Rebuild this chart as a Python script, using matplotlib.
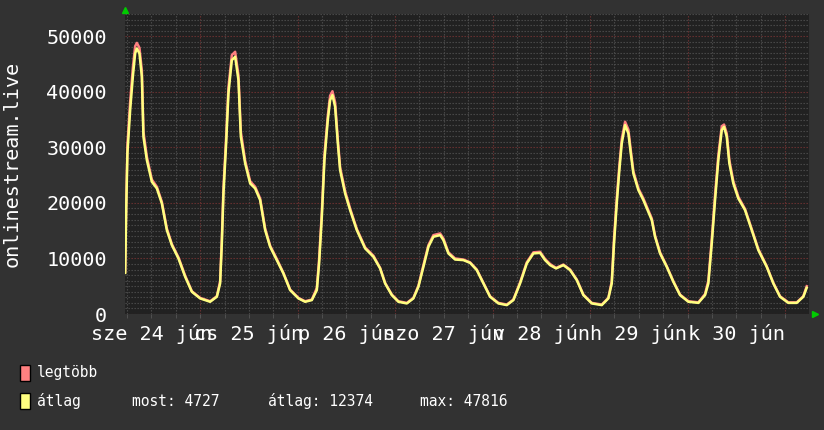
"""RRDtool-style weekly viewer graph for onlinestream.live (dark theme)."""
import matplotlib
matplotlib.use("Agg")
import matplotlib.pyplot as plt
from matplotlib.patches import Rectangle
from matplotlib.ticker import FuncFormatter, MultipleLocator

# hours since jún 24 00:00
hours = [
    5.54, 5.78, 6.1, 6.77, 7.43, 8.0, 8.42, 9.06, 9.65, 10.04, 10.88, 12.11,
    13.34, 14.57, 15.8, 17.03, 18.66, 20.31, 21.96, 24.0, 26.46, 28.11, 28.92,
    29.34, 29.74, 30.4, 30.97, 31.8, 32.62, 33.43, 34.02, 35.08, 36.31, 37.54,
    38.77, 40.0, 41.23, 42.88, 44.5, 46.15, 48.2, 49.85, 51.5, 52.73, 53.29,
    53.96, 54.6, 55.43, 56.0, 56.57, 57.23, 57.9, 58.46, 59.69, 60.92, 62.57,
    64.62, 66.66, 68.31, 69.54, 71.19, 72.81, 74.88, 76.5, 77.74, 78.97, 80.2,
    81.43, 83.08, 83.89, 85.12, 86.77, 88.81, 90.46, 92.11, 93.74, 95.38,
    97.43, 99.5, 101.12, 102.77, 104.42, 106.05, 107.69, 108.92, 110.15,
    111.63, 113.43, 115.08, 116.73, 118.35, 120.42, 122.88, 124.5, 125.34,
    125.9, 126.57, 127.21, 127.8, 128.62, 129.43, 130.02, 130.66, 131.89,
    133.12, 135.19, 136.0, 137.23, 138.88, 140.5, 142.15, 144.2, 146.66,
    148.31, 149.12, 149.96, 150.77, 151.58, 152.42, 152.98, 153.65, 154.29,
    155.27, 156.5, 158.15, 159.8, 161.42, 163.49, 165.12, 166.77, 168.81,
    170.88, 172.5, 173.34,
]

atlag = [
    7400, 18200, 29000, 36700, 42700, 46900, 47800, 46900, 42700, 31900, 27700, 23800,
    22600, 19900, 15100, 12400, 10000, 6700, 4000, 2800, 2200, 3100, 5500,
    12700, 21700, 30700, 39700, 45700, 46300, 42100, 31900, 27100, 23500, 22600,
    20500, 15100, 12100, 9700, 7300, 4300, 2800, 2200, 2500, 4300, 9100,
    17500, 27700, 34900, 38500, 39400, 37300, 30700, 25900, 21700, 18700, 15100,
    11800, 10300, 8200, 5500, 3400, 2200, 1900, 2800, 4900, 8500, 12100,
    13900, 14200, 13300, 10900, 9800, 9700, 9200, 7900, 5500, 3100,
    1900, 1600, 2500, 5500, 9100, 10900, 11000, 9700, 8800,
    8200, 8800, 7900, 6100, 3400, 1900, 1600, 2800, 5500,
    12700, 19900, 25900, 30700, 34000, 32500, 28900, 25300, 22300,
    20500, 16900, 13900, 10900, 8500, 5800, 3400, 2200, 2000,
    3400, 5500, 12700, 20500, 27700, 33100, 33700, 31900, 27100,
    23500, 20800, 18700, 15100, 11500, 8500, 5500, 3100, 2000,
    2000, 3100, 4727,
]

legtobb = [
    7600, 19500, 30500, 38200, 44300, 48200, 48800, 47900, 43800, 32800, 28300, 24200,
    22900, 20200, 15400, 12600, 10200, 6900, 4100, 2900, 2300, 3200, 5900,
    13600, 22700, 31800, 40800, 46600, 47200, 43000, 32800, 27600, 23900, 22900,
    20800, 15400, 12300, 9900, 7400, 4400, 2900, 2300, 2600, 4700, 9900,
    18400, 28600, 35700, 39300, 40100, 38100, 31400, 26400, 22100, 19000, 15300,
    12000, 10500, 8300, 5600, 3500, 2300, 2000, 2900, 5100, 8800, 12400,
    14200, 14500, 13600, 11100, 10000, 9800, 9300, 8000, 5600, 3200,
    2000, 1700, 2600, 5700, 9300, 11100, 11200, 9900, 9000,
    8300, 8900, 8000, 6200, 3500, 2000, 1700, 2900, 5900,
    13600, 20800, 26700, 31500, 34600, 33200, 29500, 25700, 22600,
    20800, 17200, 14100, 11100, 8600, 5900, 3500, 2300, 2100,
    3600, 6000, 13500, 21400, 28600, 33800, 34100, 32500, 27700,
    23900, 21100, 18900, 15300, 11700, 8600, 5600, 3200, 2100,
    2100, 3200, 5000,
]

day_labels = ["sze 24 jún", "cs 25 jún", "p 26 jún", "szo 27 jún",
              "v 28 jún", "h 29 jún", "k 30 jún"]
y_ticks = [0, 10000, 20000, 30000, 40000, 50000]
series_names = ["legtöbb", "átlag"]
most_value = 4727
atlag_value = 12374
max_value = 47816

BACK = "#323232"
CANVAS = "#212121"
FG = "#ffffff"
MAX_COLOR = "#ff8080"
AVG_COLOR = "#ffff80"
MINOR_GRID = "#4e4e4e"
MAJOR_GRID = "#703232"
MONO = "DejaVu Sans Mono"

W, H = 824, 430
fig = plt.figure(figsize=(W / 100, H / 100), dpi=100)
fig.patch.set_facecolor(BACK)
ax = fig.add_axes([125 / W, (H - 314) / H, (809 - 125) / W, (314 - 14) / H])
ax.set_facecolor(CANVAS)

ax.plot(hours, legtobb, color=MAX_COLOR, lw=1.8, zorder=3)
ax.plot(hours, atlag, color=AVG_COLOR, lw=1.8, zorder=4)

ax.set_xlim(5.5, 173.9)
ax.set_ylim(0, 54000)

# grid: days (red) / 6 hours (gray), 10000 (red) / 1000 (gray)
ax.xaxis.set_major_locator(MultipleLocator(24))
ax.xaxis.set_minor_locator(MultipleLocator(6))
ax.yaxis.set_major_locator(MultipleLocator(10000))
ax.yaxis.set_minor_locator(MultipleLocator(1000))
ax.set_yticks(y_ticks)
ax.grid(True, which="minor", color=MINOR_GRID, lw=0.8, linestyle=(0, (1.2, 1.5)), zorder=1)
ax.grid(True, which="major", color=MAJOR_GRID, lw=0.8, linestyle=(0, (1.2, 1.5)), zorder=2)
ax.set_axisbelow(True)


def day_fmt(x, pos):
    h = int(round(x))
    if h % 24 == 12:
        idx = h // 24
        if 0 <= idx < len(day_labels):
            return day_labels[idx]
    return ""


ax.xaxis.set_major_formatter(FuncFormatter(lambda x, p: ""))
ax.xaxis.set_minor_formatter(FuncFormatter(day_fmt))
ax.yaxis.set_major_formatter(FuncFormatter(lambda v, p: f"{int(v)}"))
ax.tick_params(axis="x", which="both", length=3, color="#555555", pad=4,
               labelcolor=FG, labelsize=14.5)
ax.tick_params(axis="y", which="both", length=0, pad=13, labelcolor=FG, labelsize=14.5)
for lab in ax.get_xticklabels(which="both") + ax.get_yticklabels():
    lab.set_family(MONO)

for s in ax.spines.values():
    s.set_visible(False)

ax.set_ylabel("onlinestream.live", family=MONO, fontsize=14.5, color=FG,
              va="center", ha="center")
ax.yaxis.set_label_coords(-113 / (809 - 125), 0.5)

# green axis arrows
ax.plot([0], [1 + 4 / 300], marker="^", ms=5, color="#00cc00", transform=ax.transAxes,
        clip_on=False, zorder=6)
ax.plot([1 + 6 / 684], [0], marker=">", ms=5, color="#00cc00", transform=ax.transAxes,
        clip_on=False, zorder=6)

# legend
for i, (name, col) in enumerate(zip(series_names, [MAX_COLOR, AVG_COLOR])):
    y_px = 365 + 28 * i
    fig.patches.append(Rectangle((20 / W, 1 - (y_px + 16) / H), 10 / W, 16 / H,
                                 transform=fig.transFigure, facecolor=col,
                                 edgecolor="black", lw=1))
    fig.text(37 / W, 1 - (y_px + 8) / H, name, family=MONO, fontsize=10.5,
             color=FG, va="center", ha="left")

y_stat = 1 - 401 / H
fig.text(132 / W, y_stat, f"most: {most_value}", family=MONO, fontsize=10.5,
         color=FG, va="center")
fig.text(268 / W, y_stat, f"átlag: {atlag_value}", family=MONO, fontsize=10.5,
         color=FG, va="center")
fig.text(420 / W, y_stat, f"max: {max_value}", family=MONO, fontsize=10.5,
         color=FG, va="center")

fig.savefig("out.png", dpi=100, facecolor=BACK)
